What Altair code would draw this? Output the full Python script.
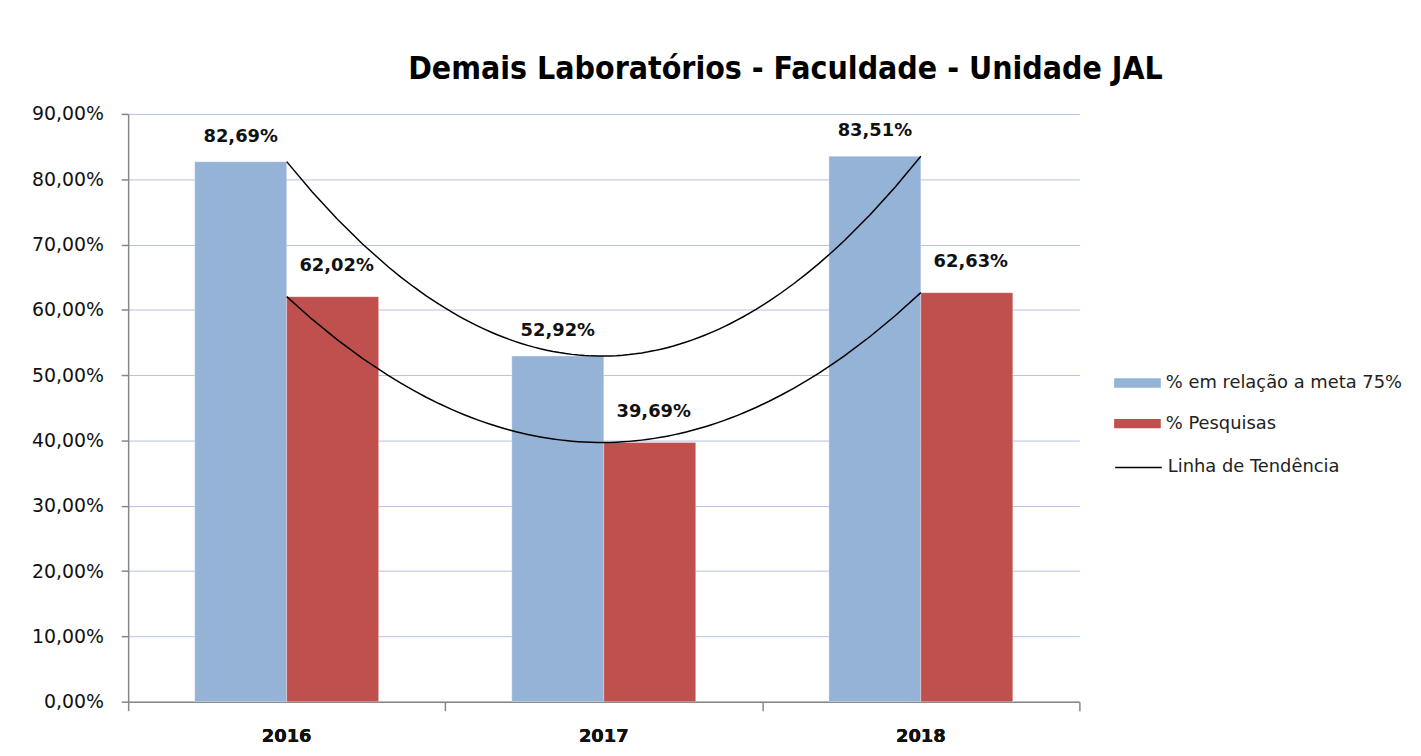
import altair as alt
import pandas as pd

# ---- data ----
years = ["2016", "2017", "2018"]
year_nums = [2016, 2017, 2018]
series = ["% em relação a meta 75%", "% Pesquisas"]
meta_values = [0.8269, 0.5292, 0.8351]
pesquisa_values = [0.6202, 0.3969, 0.6263]
trend_name = "Linha de Tendência"
y_ticks = [0.0, 0.1, 0.2, 0.3, 0.4, 0.5, 0.6, 0.7, 0.8, 0.9]
x_boundaries = [2015.5, 2016.5, 2017.5, 2018.5]
title_text = "Demais Laboratórios  - Faculdade  - Unidade JAL"
colors = ["#95B3D7", "#C0504D"]

rows = []
for s, vals in zip(series, [meta_values, pesquisa_values]):
    for y, yn, v in zip(years, year_nums, vals):
        rows.append({"ano": y, "ano_num": yn, "serie": s, "valor": v})
df = pd.DataFrame(rows)

FONT = "DejaVu Sans"
TITLE_FONT = "DejaVu Sans Condensed, DejaVu Sans"
GRAY = "#868686"

x_band = alt.X(
    "ano:N", sort=years,
    scale=alt.Scale(paddingInner=0.42, paddingOuter=0.21),
    axis=alt.Axis(orient="bottom", title=None, labelAngle=0, ticks=False, domain=False, grid=False,
                  labelFontWeight="bold", labelFontSize=18, labelPadding=26,
                  labelColor="#111111", labelFont=FONT),
)
x_off = alt.XOffset("serie:N", sort=series, scale=alt.Scale(paddingInner=0, paddingOuter=0))
y_enc = alt.Y(
    "valor:Q",
    scale=alt.Scale(domain=[0, 0.9], nice=False),
    axis=alt.Axis(title=None, values=y_ticks,
                  labelExpr="replace(format(datum.value, '.2%'), '.', ',')",
                  tickSize=7, tickColor=GRAY, tickWidth=1.5,
                  domainColor=GRAY, domainWidth=1.5,
                  gridColor="#AFC4E8", gridWidth=1,
                  labelPadding=18, labelFontSize=19, labelFont=FONT,
                  labelColor="#111111"),
)

bars = alt.Chart(df).mark_bar(stroke="white", strokeWidth=0.5, strokeOpacity=0.6).encode(
    x=x_band,
    xOffset=x_off,
    y=y_enc,
    color=alt.Color(
        "serie:N", sort=series,
        scale=alt.Scale(domain=series, range=colors),
        legend=alt.Legend(
            title=None, orient="none", legendX=1006.5, legendY=261,
            symbolType="M-2.35,-0.47H2.35V0.47H-2.35Z", symbolSize=400,
            symbolStrokeWidth=0, rowPadding=22, labelOffset=18.5, labelLimit=400,
            labelFont=FONT, labelFontSize=18, labelColor="#222222",
        ),
    ),
)


def value_labels(serie_name, dy, dx):
    return alt.Chart(df).transform_filter(
        alt.datum.serie == serie_name
    ).transform_calculate(
        rotulo="replace(format(datum.valor, '.2%'), '.', ',')"
    ).mark_text(
        dy=dy, dx=dx, baseline="middle", fontWeight="bold", fontSize=18, font=FONT,
        color="#111111"
    ).encode(
        x=x_band,
        xOffset=x_off,
        y=alt.Y("valor:Q"),
        text="rotulo:N",
    )


labels_meta = value_labels(series[0], -25, 0)
labels_pesq = value_labels(series[1], -31, 4)

lines = alt.Chart(df).transform_regression(
    "ano_num", "valor", groupby=["serie"], method="poly", order=2
).transform_calculate(
    tipo=f"'{trend_name}'"
).mark_line(strokeWidth=1.5).encode(
    x=alt.X("ano_num:Q",
            scale=alt.Scale(domain=[2015.5, 2018.5], nice=False, zero=False),
            axis=alt.Axis(orient="bottom", values=x_boundaries, labels=False, tickSize=9, grid=False,
                          title=None, domainColor=GRAY, domainWidth=1.5,
                          tickColor=GRAY, tickWidth=1.5)),
    y=alt.Y("valor:Q"),
    detail="serie:N",
    stroke=alt.Stroke(
        "tipo:N",
        scale=alt.Scale(domain=[trend_name], range=["black"]),
        legend=alt.Legend(
            title=None, orient="none", legendX=1006.5, legendY=345,
            symbolType="M-2.35,0H2.35", symbolSize=400, symbolStrokeWidth=1.5,
            labelOffset=18.5, labelLimit=400, labelFont=FONT, labelFontSize=18,
            labelColor="#222222",
        ),
    ),
)

chart = alt.layer(bars, lines, labels_meta, labels_pesq).resolve_scale(x="independent").properties(
    width=958,
    height=592,
    title=alt.TitleParams(text=title_text, font=TITLE_FONT, fontSize=32, fontWeight="bold",
                          anchor="middle", frame="group", dx=183, offset=19, color="black"),
    padding={"left": 23, "top": 43, "right": 10, "bottom": 5},
).configure_view(stroke=None)

chart.save("out.html", embed_options={"renderer": "svg", "actions": False})
